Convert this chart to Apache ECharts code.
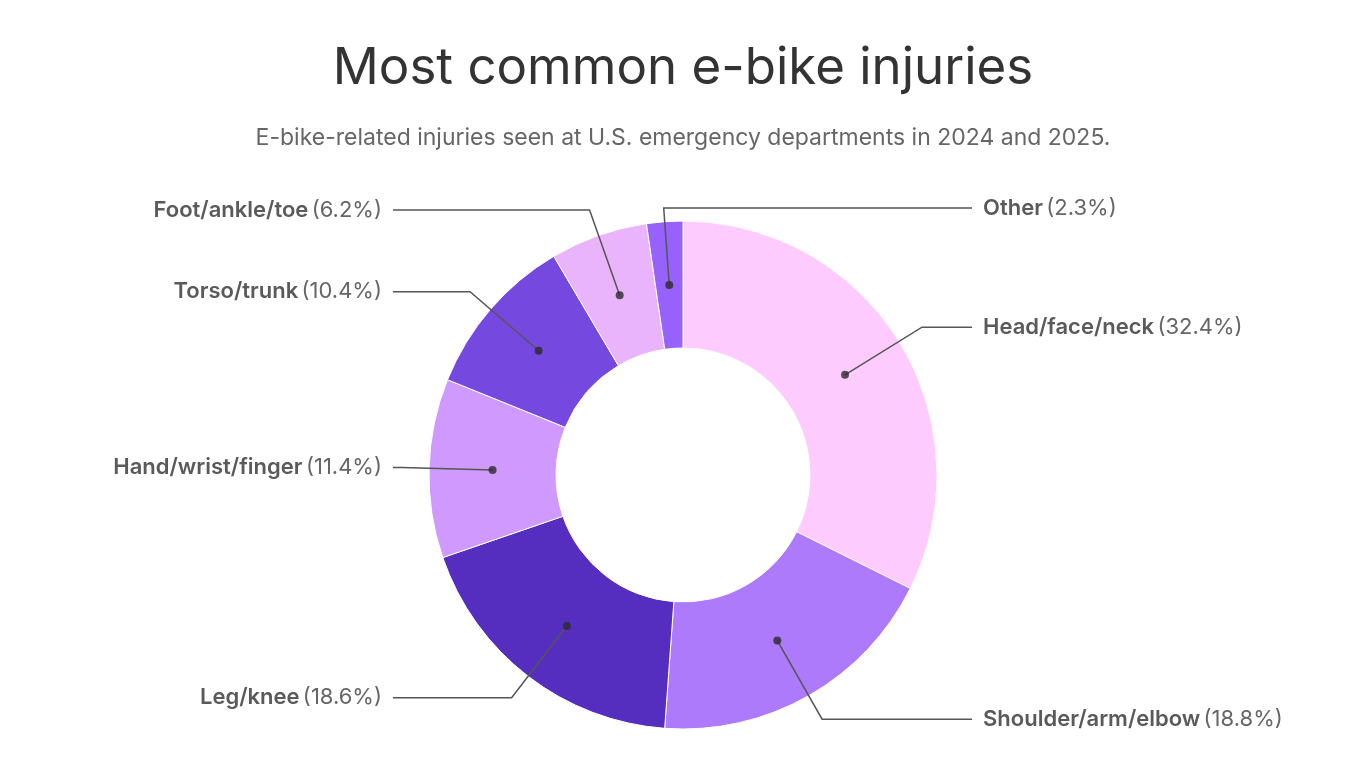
<!DOCTYPE html>
<html>
<head>
<meta charset="utf-8">
<script src="https://cdn.jsdelivr.net/npm/echarts@6/dist/echarts.min.js"></script>
<style>
html, body { margin: 0; padding: 0; background: #fff; }
#chart { width: 1366px; height: 768px; }
</style>
</head>
<body>
<div id="chart"></div>
<script>
var categories = ['Head/face/neck', 'Shoulder/arm/elbow', 'Leg/knee', 'Hand/wrist/finger', 'Torso/trunk', 'Foot/ankle/toe', 'Other'];
var shares = [32.4, 18.8, 18.6, 11.4, 10.4, 6.2, 2.3];
var colors = ['#fdcbfe', '#ae7afc', '#552ec0', '#cf99fd', '#7549e0', '#eab4fc', '#9762fc'];

var chart = echarts.init(document.getElementById('chart'));

// geometry of the donut and its leader lines
var cx = 683, cy = 475, rIn = 127, rOut = 254;
var rDot = (rIn + rOut) / 2, rBend = rOut + 27, labelTop = 208;
var lineEndLeft = 393, lineEndRight = 972, textGap = 11;

var total = shares.reduce(function (a, b) { return a + b; }, 0);
var midShare = [];
var run = 0;
shares.forEach(function (v) {
    midShare.push(run + v / 2);
    run += v;
});

var pieData = categories.map(function (name, i) {
    return { name: name, value: shares[i], itemStyle: { color: colors[i] } };
});
var labelData = categories.map(function (name, i) {
    return { name: name, value: shares[i] };
});
var dotData = midShare.map(function (m) { return [rDot, m]; });

function layoutLabel(params) {
    var a = midShare[params.dataIndex] / total * Math.PI * 2;
    var sx = Math.sin(a), cz = Math.cos(a);
    var dot = [cx + rDot * sx, cy - rDot * cz];
    var bend = [cx + rBend * sx, cy - rBend * cz];
    if (bend[1] < labelTop) {
        bend = [cx + (cy - labelTop) * Math.tan(a), labelTop];
    }
    // slices just left of the top still get their label on the right
    var left = sx < -0.1;
    var endX = left ? lineEndLeft : lineEndRight;
    return {
        x: left ? endX - textGap : endX + textGap,
        y: bend[1],
        align: left ? 'right' : 'left',
        verticalAlign: 'middle',
        labelLinePoints: [dot, bend, [endX, bend[1]]]
    };
}

var option = {
    animation: false,
    backgroundColor: '#fff',
    title: [
        {
            text: 'Most common e-bike injuries',
            left: 'center',
            top: 38,
            textStyle: { fontFamily: 'Inter', fontSize: 51, fontWeight: 400, color: '#333' }
        },
        {
            text: 'E-bike-related injuries seen at U.S. emergency departments in 2024 and 2025.',
            left: 'center',
            top: 122,
            textStyle: { fontFamily: 'Inter', fontSize: 23, fontWeight: 400, color: '#666' }
        }
    ],
    polar: { center: [cx, cy], radius: rOut },
    angleAxis: { type: 'value', min: 0, max: total, startAngle: 90, clockwise: true, show: false },
    radiusAxis: { type: 'value', min: 0, max: rOut, show: false },
    series: [
        {
            type: 'pie',
            center: [cx, cy],
            radius: [rIn, rOut],
            startAngle: 90,
            clockwise: true,
            silent: true,
            z: 2,
            itemStyle: { borderColor: '#fff', borderWidth: 1 },
            label: { show: false },
            labelLine: { show: false },
            data: pieData
        },
        {
            // transparent copy on top that carries the labels and leader lines
            type: 'pie',
            center: [cx, cy],
            radius: [rIn, rOut],
            startAngle: 90,
            clockwise: true,
            silent: true,
            z: 4,
            avoidLabelOverlap: false,
            itemStyle: { color: 'rgba(0,0,0,0)', borderWidth: 0 },
            label: {
                show: true,
                position: 'outside',
                formatter: function (p) {
                    return '{n|' + p.name + '} {v|(' + p.value.toFixed(1) + '%)}';
                },
                rich: {
                    n: { fontFamily: 'Inter', fontSize: 22, fontWeight: 600, color: '#5a5a5a' },
                    v: { fontFamily: 'Inter', fontSize: 22, fontWeight: 400, color: '#666' }
                }
            },
            labelLine: {
                show: true,
                length: 27,
                length2: 10,
                lineStyle: { color: '#555', width: 1.5 }
            },
            labelLayout: layoutLabel,
            data: labelData
        },
        {
            type: 'scatter',
            coordinateSystem: 'polar',
            silent: true,
            z: 10,
            symbol: 'circle',
            symbolSize: 8,
            itemStyle: { color: '#2b2b2b' },
            data: dotData
        }
    ]
};
chart.setOption(option);
</script>
</body>
</html>
